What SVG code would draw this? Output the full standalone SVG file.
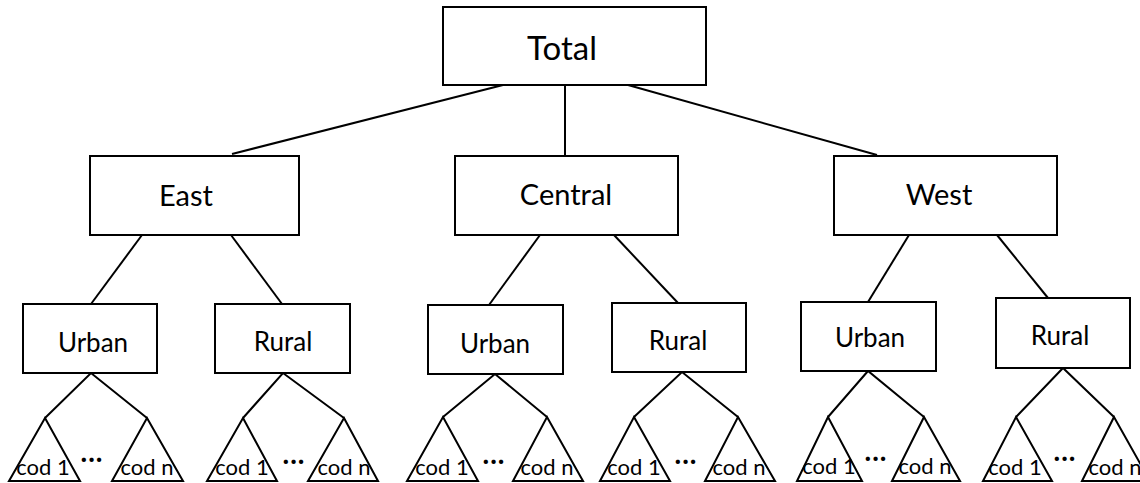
<svg xmlns="http://www.w3.org/2000/svg" width="1140" height="483" viewBox="0 0 1140 483">
<style>
.box{fill:#fff;stroke:#000;stroke-width:2}
.tri{fill:#fff;stroke:#000;stroke-width:2;stroke-linejoin:miter}
.ln{stroke:#000;stroke-width:2;fill:none}
text{font-family:Lato,"Open Sans","Liberation Sans",sans-serif;fill:#000;text-anchor:middle}
.t1{font-size:33px}
.t2{font-size:29px}
.t3{font-size:26px}
.t4{font-size:22px}
.dots{font-size:28px;font-weight:bold;letter-spacing:1px}
</style>
<rect width="1140" height="483" fill="#fff"/>
<g id="connectors">
<line class="ln" x1="503" y1="85" x2="232" y2="154"/>
<line class="ln" x1="565" y1="85" x2="565" y2="155"/>
<line class="ln" x1="628" y1="85" x2="877" y2="155"/>
<line class="ln" x1="142" y1="235" x2="91" y2="304"/>
<line class="ln" x1="231" y1="235" x2="282" y2="304"/>
<line class="ln" x1="540" y1="235" x2="489" y2="305"/>
<line class="ln" x1="614" y1="235" x2="678" y2="303"/>
<line class="ln" x1="909" y1="235" x2="868" y2="302"/>
<line class="ln" x1="997" y1="235" x2="1048" y2="298"/>
<polyline class="ln" points="45,418 91,373 147,418"/>
<polyline class="ln" points="243,418 283,373 344,418"/>
<polyline class="ln" points="443,417 495,374 547,417"/>
<polyline class="ln" points="634,417 682,372 738,417"/>
<polyline class="ln" points="828,417 868,371 924,417"/>
<polyline class="ln" points="1016,417 1063,368 1114,417"/>
</g>
<g id="total">
<rect class="box" x="443" y="7" width="263" height="78"/>
<text class="t1" x="562" y="60">Total</text>
</g>
<g id="east">
<rect class="box" x="90" y="156" width="209" height="79"/>
<text class="t2" x="186" y="206">East</text>
</g>
<g id="central">
<rect class="box" x="455" y="156" width="223" height="79"/>
<text class="t2" x="566" y="205">Central</text>
</g>
<g id="west">
<rect class="box" x="834" y="156" width="223" height="79"/>
<text class="t2" x="939" y="205">West</text>
</g>
<g id="east-urban">
<rect class="box" x="23" y="304" width="134" height="69"/>
<text class="t3" x="93" y="352">Urban</text>
<polygon class="tri" points="45,418 80,481 9,481"/>
<text class="t4" x="43" y="475">cod 1</text>
<text class="dots" x="92" y="462">...</text>
<polygon class="tri" points="147,418 183,481 112,481"/>
<text class="t4" x="147" y="475">cod n</text>
</g>
<g id="east-rural">
<rect class="box" x="215" y="304" width="135" height="69"/>
<text class="t3" x="283" y="351">Rural</text>
<polygon class="tri" points="243,418 277,481 207,481"/>
<text class="t4" x="242" y="475">cod 1</text>
<text class="dots" x="294" y="464">...</text>
<polygon class="tri" points="344,418 378,481 308,481"/>
<text class="t4" x="344" y="475">cod n</text>
</g>
<g id="central-urban">
<rect class="box" x="428" y="305" width="135" height="69"/>
<text class="t3" x="495" y="353">Urban</text>
<polygon class="tri" points="443,417 478,481 407,481"/>
<text class="t4" x="442" y="475">cod 1</text>
<text class="dots" x="494" y="464">...</text>
<polygon class="tri" points="547,417 583,481 513,481"/>
<text class="t4" x="547" y="475">cod n</text>
</g>
<g id="central-rural">
<rect class="box" x="612" y="303" width="134" height="69"/>
<text class="t3" x="678" y="350">Rural</text>
<polygon class="tri" points="634,417 670,481 600,481"/>
<text class="t4" x="634" y="475">cod 1</text>
<text class="dots" x="686" y="464">...</text>
<polygon class="tri" points="738,417 775,481 705,481"/>
<text class="t4" x="739" y="475">cod n</text>
</g>
<g id="west-urban">
<rect class="box" x="801" y="302" width="135" height="69"/>
<text class="t3" x="870" y="347">Urban</text>
<polygon class="tri" points="828,417 862,481 797,481"/>
<text class="t4" x="829" y="474">cod 1</text>
<text class="dots" x="876" y="461">...</text>
<polygon class="tri" points="924,417 960,481 892,481"/>
<text class="t4" x="925" y="474">cod n</text>
</g>
<g id="west-rural">
<rect class="box" x="996" y="298" width="134" height="70"/>
<text class="t3" x="1060" y="345">Rural</text>
<polygon class="tri" points="1016,417 1052,481 983,481"/>
<text class="t4" x="1015" y="475">cod 1</text>
<text class="dots" x="1065" y="461">...</text>
<polygon class="tri" points="1114,417 1150,481 1082,481"/>
<text class="t4" x="1115" y="475">cod n</text>
</g>
</svg>
